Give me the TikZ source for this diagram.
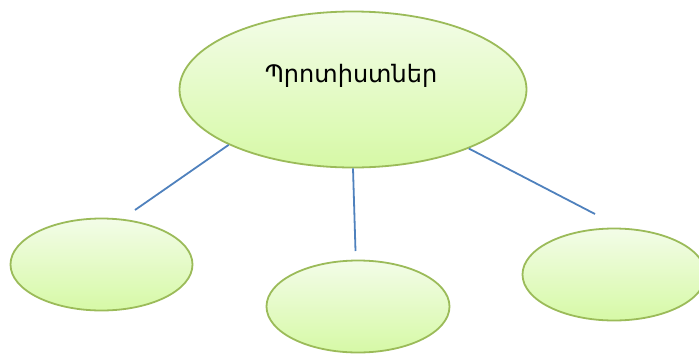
\documentclass[tikz,border=0pt]{standalone}
\usepackage{fontspec}
\newfontfamily\armfont{DejaVu Sans}
\usetikzlibrary{shapes.geometric}
\definecolor{ovalLine}{HTML}{9BBB59}
\definecolor{ovalTop}{HTML}{F3FCE8}
\definecolor{ovalBot}{HTML}{D6F9A6}
\definecolor{linkBlue}{HTML}{4F81BD}
\begin{document}
\begin{tikzpicture}[x=1pt,y=-1pt,
  oval/.style={ellipse, draw=ovalLine, line width=1.8pt, top color=ovalTop, bottom color=ovalBot, inner sep=0pt},
  link/.style={draw=linkBlue, line width=1.8pt}]
\useasboundingbox (0,0) rectangle (699,354);
\begin{scope}
\clip (0,0) rectangle (699,354);
\node[oval, minimum width=347pt, minimum height=156pt] (top) at (353,89.5) {};
\node[oval, minimum width=182pt, minimum height=92pt] (left) at (101.5,264.5) {};
\node[oval, minimum width=183pt, minimum height=92pt] (mid) at (358,306.5) {};
\node[oval, minimum width=183pt, minimum height=92pt] (right) at (614,274.5) {};
\end{scope}
\node[font=\armfont\fontsize{24}{28}\selectfont, inner sep=0pt] (title) at (351,76) {Պրոտիստներ};
\coordinate (lEnd) at (135,210);
\coordinate (mEnd) at (355.5,251);
\coordinate (rEnd) at (595,214);
\draw[link] (top.204) -- (lEnd);
\draw[link] (top.south) -- (mEnd);
\draw[link] (top.-27) -- (rEnd);
\end{tikzpicture}
\end{document}
